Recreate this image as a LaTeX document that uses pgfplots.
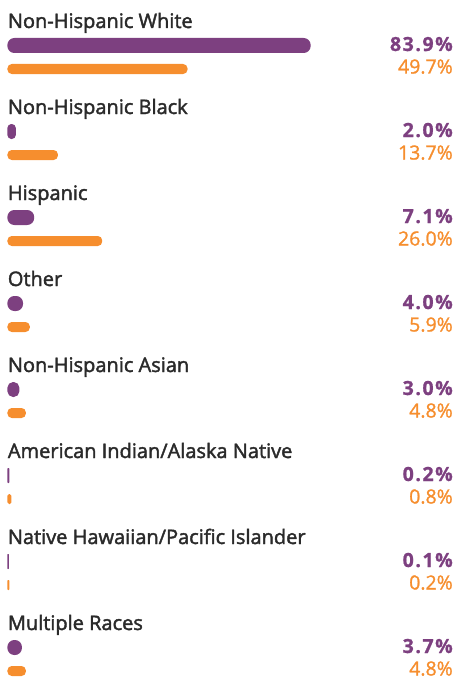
\documentclass[border=0pt]{standalone}
\usepackage{pgfplots}
\pgfplotsset{compat=1.18}
\usepackage{pgfplotstable}
\usepackage{fontspec}
\setmainfont{Open Sans}
\definecolor{purp}{HTML}{7D4080}
\definecolor{orng}{HTML}{F68E2E}
\definecolor{lab}{HTML}{2A2A2A}
\pgfplotstableread[col sep=comma]{
label,p,o
Non-Hispanic White,83.9,49.7
Non-Hispanic Black,2.0,13.7
Hispanic,7.1,26.0
Other,4.0,5.9
Non-Hispanic Asian,3.0,4.8
American Indian/Alaska Native,0.2,0.8
Native Hawaiian/Pacific Islander,0.1,0.2
Multiple Races,3.7,4.8
}\data
% one rounded bar: value, y, colour, bar width, largest corner radius
\newcommand\rbar[5]{%
  \pgfmathsetmacro\rr{min(#5,0.48*#1*3.6)}%
  \edef\doit{\noexpand\addplot[xbar, bar shift=0pt, bar width=#4, fill=#3, draw=#3,
    line width=1.2pt, rounded corners=\rr pt] coordinates {(#1,#2)};}%
  \doit}
\begin{document}
\begin{tikzpicture}
\begin{axis}[
  width=455pt, height=677pt, scale only axis,
  xmin=-2.2222, xmax=124.1667, ymin=0, ymax=677,
  y dir=reverse, hide axis, clip=false,
  /pgf/number format/assume math mode=true,
]
\path (rel axis cs:0,0) rectangle (rel axis cs:1,1);
\pgfplotsforeachungrouped \i in {0,...,7}{%
  \pgfplotstablegetelem{\i}{p}\of\data \let\pv\pgfplotsretval
  \pgfplotstablegetelem{\i}{o}\of\data \let\ov\pgfplotsretval
  \pgfmathsetmacro\yp{45.5+86*\i}%
  \pgfmathsetmacro\yo{69+86*\i}%
  \rbar{\pv}{\yp}{purp}{13.8}{6.4}%
  \rbar{\ov}{\yo}{orng}{8.8}{3.9}%
}
% category labels
\addplot[draw=none, mark=none, nodes near coords, point meta=explicit symbolic,
  nodes near coords style={anchor=base west, inner sep=0pt, xshift=-0.3pt, text=lab, font=\fontsize{20}{20}\selectfont\addfontfeature{FakeBold=2}}]
  table[x expr=0, y expr=28+86*\coordindex, meta=label]{\data};
% purple values
\addplot[draw=none, mark=none, nodes near coords={\pgfmathprintnumber[fixed,fixed zerofill,precision=1]{\pgfplotspointmeta}\%}, point meta=explicit,
  nodes near coords style={anchor=base east, inner sep=0pt, text=purp, font=\fontsize{19.5}{19.5}\selectfont\bfseries\addfontfeature{LetterSpace=8,FakeBold=1}}]
  table[x expr=123.6, y expr=51+86*\coordindex, meta=p]{\data};
% orange values
\addplot[draw=none, mark=none, nodes near coords={\pgfmathprintnumber[fixed,fixed zerofill,precision=1]{\pgfplotspointmeta}\%}, point meta=explicit,
  nodes near coords style={anchor=base east, inner sep=0pt, text=orng, font=\fontsize{19.5}{19.5}\selectfont\addfontfeature{FakeBold=1.2}}]
  table[x expr=123.6, y expr=73.5+86*\coordindex, meta=o]{\data};
\end{axis}
\end{tikzpicture}
\end{document}
